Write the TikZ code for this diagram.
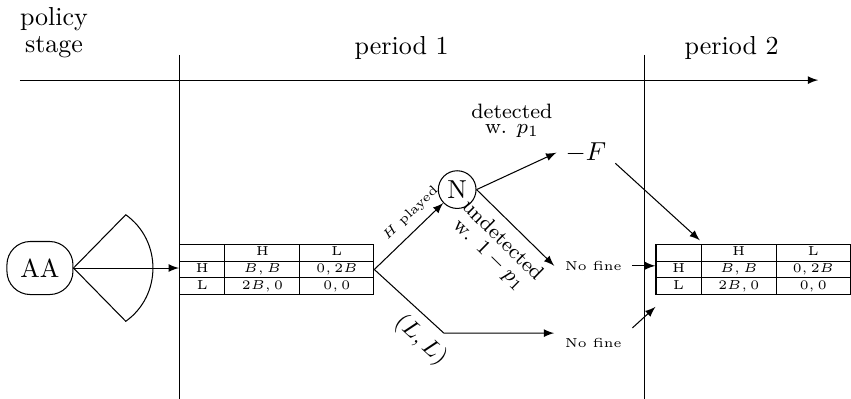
\documentclass[tikz,border=0pt]{standalone}
\usepackage{array}
\newcolumntype{C}[1]{>{\centering\arraybackslash}p{#1}}
\newcommand{\payofftab}{%
  \fontsize{5}{6}\selectfont\setlength{\tabcolsep}{0pt}%
  \begin{tabular}{|C{17pt}|C{28.5pt}|C{28pt}|}
    \hline
      & H & L \\ \hline
    H & $B, B$ & $0, 2B$ \\ \hline
    L & $2B, 0$ & $0, 0$ \\ \hline
  \end{tabular}}
\tikzset{
  lbl/.style={font=\footnotesize, align=center},
  tabnode/.style={inner sep=0pt, outer sep=0pt},
  finenode/.style={font=\tiny, inner sep=4pt}
}
\begin{document}
\begin{tikzpicture}[>=latex]
  \useasboundingbox (0,0) rectangle (11.503,5.393);
  % time line and stages
  \draw[->] (0.27,4.31) -- (11.06,4.31);
  \draw (2.43,4.65) -- (2.43,0);
  \draw (8.71,4.65) -- (8.71,0);
  \node[align=center] (policy) at (0.73,4.95) {policy\\[-1.6pt]stage};
  \node (per1) at (5.43,4.74) {period 1};
  \node (per2) at (9.89,4.74) {period 2};
  % policy stage
  \node[draw, rounded corners=9pt, minimum width=25.4pt, minimum height=20.4pt, inner sep=0pt] (AA) at (0.54,1.77) {AA};
  \draw (AA.east) -- (1.70,2.49) .. controls (2.19,2.14) and (2.19,1.40) .. (1.70,1.05) -- cycle;
  % stage games
  \node[tabnode] (tab1) at (3.74,1.75) {\payofftab};
  \node[tabnode] (tab2) at (10.18,1.75) {\payofftab};
  \draw[->] (AA.east) -- (AA.east -| tab1.west);
  % nature and outcomes
  \node[draw, circle, minimum size=14.5pt, inner sep=0pt] (N) at (6.18,2.83) {N};
  \coordinate (LLcorner) at (6.00,0.89);
  \node (mF) at (7.92,3.33) {$-F$};
  \node[lbl] (det) at (6.92,3.76) {detected\\[-4pt]w. $p_1$};
  \node[finenode] (fineA) at (8.02,1.80) {No fine};
  \node[finenode] (fineB) at (8.02,0.75) {No fine};
  \draw[->] (tab1.east) -- node[sloped, above, pos=0.68, font=\tiny] {$H$ played} (N);
  \draw[->] (tab1.east) -- node[sloped, below, pos=0.87, font=\small] {$(L,L)$} (LLcorner) -- (LLcorner -| fineB.west);
  \draw[->] (N.east) -- (mF.west);
  \draw[->] (N.east) -- node[sloped, below, midway, lbl] {undetected\\[-2pt]w. $1-p_1$} (fineA.west);
  % into period 2
  \draw[->] (mF.-20) -- ([xshift=0.6cm, yshift=0.05cm]tab2.north west);
  \draw[->] (fineA.east) -- (fineA.east -| tab2.west);
  \draw[->] (fineB.north east) -- ([yshift=-0.16cm]tab2.south west);
\end{tikzpicture}
\end{document}
